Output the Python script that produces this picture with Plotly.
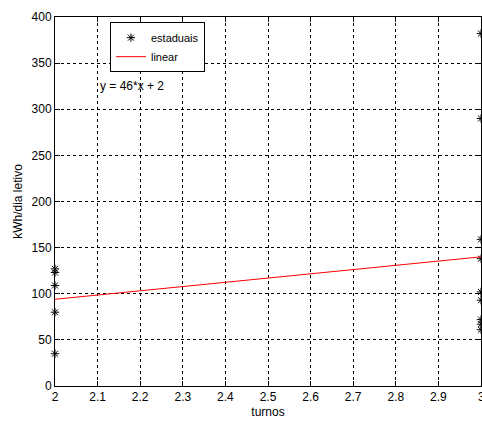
import plotly.graph_objects as go

# data
turnos_2 = [2, 2, 2, 2, 2]
kwh_2 = [127, 123, 109, 80, 35]
turnos_3 = [3, 3, 3, 3, 3, 3, 3, 3, 3]
kwh_3 = [382, 290, 159, 138, 102, 93, 72, 67, 61]
line_x = [2, 3]
line_y = [94, 140]
eq_text = "y = 46*x + 2"
last_tick = 3

font = dict(family="Liberation Sans, Arial, sans-serif", size=12, color="black")

fig = go.Figure()
fig.add_trace(go.Scatter(
    x=turnos_2 + turnos_3, y=kwh_2 + kwh_3, mode="markers", name="estaduais",
    marker=dict(symbol="asterisk-open", size=7, color="black",
                line=dict(color="black", width=1)),
    cliponaxis=False,
))
fig.add_trace(go.Scatter(
    x=line_x, y=line_y, mode="lines", name="linear",
    line=dict(color="red", width=1),
))

fig.add_annotation(x=2.1, y=325, text=eq_text, showarrow=False,
                   xanchor="left", yanchor="middle", font=font)
# last x tick label (partly outside the window, as in the reference)
fig.add_annotation(x=last_tick, y=0, yref="y", text=str(last_tick), showarrow=False,
                   xanchor="center", yanchor="top", yshift=-2, font=font)

axis_common = dict(
    showline=True, linecolor="black", linewidth=1, mirror="ticks",
    ticks="inside", ticklen=5, tickcolor="black",
    showgrid=True, gridcolor="black", gridwidth=1, griddash="3px,3px",
    zeroline=False, tickfont=font,
)

fig.update_layout(
    width=482, height=423,
    margin=dict(l=55, r=1, t=17, b=37),
    paper_bgcolor="white", plot_bgcolor="white",
    font=font,
    xaxis=dict(range=[2, 3], dtick=0.1, tick0=2,
               title=dict(text="turnos", font=font, standoff=4), **axis_common),
    yaxis=dict(range=[0, 400], dtick=50,
               title=dict(text="kWh/dia letivo", font=font, standoff=6), **axis_common),
    legend=dict(x=0.129, y=0.986, xanchor="left", yanchor="top",
                bgcolor="white", bordercolor="black", borderwidth=1,
                font=dict(family=font["family"], size=11, color="black"),
                tracegroupgap=0, itemwidth=30),
    showlegend=True,
)

fig.write_html("out.html")
